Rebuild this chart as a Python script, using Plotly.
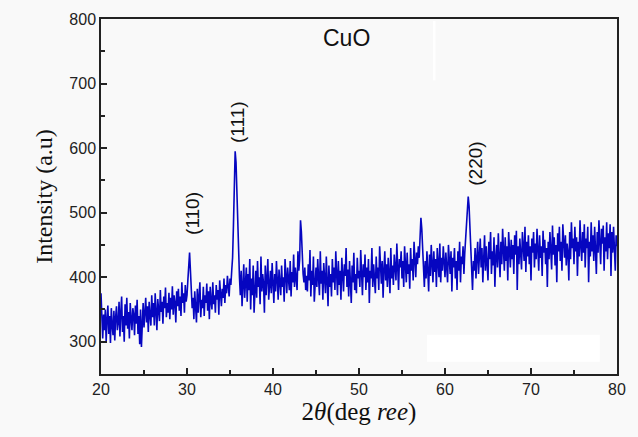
import numpy as np
import plotly.graph_objects as go

# 2-theta from 20 to 80 in steps of 0.1
two_theta = np.round(np.arange(20.0, 80.0001, 0.1), 1)

intensity = [
    375, 330, 305, 342, 318, 350, 300, 335, 356, 312,   # 20
    340, 298, 352, 325, 310, 348, 302, 338, 355, 318,   # 21
    330, 362, 308, 345, 370, 315, 340, 300, 358, 325,   # 22
    368, 320, 346, 305, 360, 335, 318, 352, 342, 310,   # 23
    356, 328, 365, 312, 340, 296, 350, 292, 335, 360,   # 24
    322, 348, 368, 330, 355, 315, 362, 340, 325, 372,   # 25
    338, 360, 325, 375, 345, 318, 366, 350, 332, 380,   # 26
    346, 362, 328, 370, 352, 384, 338, 360, 345, 376,   # 27
    335, 368, 350, 386, 342, 372, 360, 330, 378, 355,   # 28
    382, 348, 370, 340, 392, 360, 375, 345, 388, 362,   # 29
    372, 395, 420, 438, 410, 380, 352, 368, 335, 378,   # 30
    360, 330, 382, 345, 370, 392, 338, 365, 352, 385,   # 31
    340, 372, 360, 390, 348, 378, 335, 385, 362, 350,   # 32
    392, 358, 372, 345, 388, 365, 380, 342, 395, 370,   # 33
    355, 382, 368, 398, 360, 388, 375, 402, 385, 370,   # 34
    398, 388, 410, 430, 480, 560, 595, 578, 530, 470,   # 35
    430, 400, 372, 410, 355, 395, 420, 368, 388, 415,   # 36
    362, 405, 380, 428, 350, 398, 372, 418, 345, 392,   # 37
    410, 368, 425, 385, 400, 358, 432, 378, 405, 390,   # 38
    345, 418, 372, 398, 428, 365, 388, 410, 375, 422,   # 39
    392, 360, 405, 378, 425, 388, 365, 412, 395, 372,   # 40
    418, 385, 400, 362, 428, 390, 375, 415, 398, 380,   # 41
    425, 370, 408, 392, 435, 385, 415, 400, 380, 440,   # 42
    410, 428, 488, 470, 430, 405, 392, 415, 380, 402,   # 43
    378, 420, 395, 442, 370, 410, 388, 432, 362, 400,   # 44
    415, 385, 428, 398, 372, 440, 390, 410, 365, 422,   # 45
    400, 375, 432, 390, 355, 418, 385, 405, 370, 428,   # 46
    392, 415, 380, 440, 398, 372, 425, 388, 410, 365,   # 47
    430, 395, 378, 420, 402, 445, 385, 412, 370, 425,   # 48
    398, 360, 418, 392, 438, 380, 405, 375, 430, 398,   # 49
    410, 385, 442, 395, 372, 420, 400, 435, 380, 415,   # 50
    392, 428, 360, 410, 398, 445, 385, 420, 402, 375,   # 51
    432, 398, 415, 380, 448, 405, 390, 425, 368, 412,   # 52
    440, 395, 420, 385, 430, 405, 375, 445, 398, 418,   # 53
    388, 435, 410, 395, 452, 402, 380, 428, 415, 440,   # 54
    398, 425, 385, 448, 410, 392, 438, 405, 420, 382,   # 55
    445, 410, 428, 395, 455, 418, 400, 438, 420, 448,   # 56
    430, 462, 492, 475, 440, 410, 385, 425, 398, 440,   # 57
    412, 378, 435, 402, 450, 418, 392, 440, 408, 428,   # 58
    385, 445, 415, 400, 452, 392, 430, 410, 448, 420,   # 59
    400, 438, 415, 392, 450, 425, 405, 440, 378, 430,   # 60
    415, 445, 398, 425, 380, 440, 410, 455, 392, 432,   # 61
    420, 448, 405, 438, 462, 480, 505, 525, 510, 478,   # 62
    440, 395, 380, 425, 410, 445, 398, 430, 455, 405,   # 63
    438, 460, 415, 445, 392, 430, 465, 410, 448, 420,   # 64
    395, 455, 428, 470, 405, 440, 418, 462, 385, 430,   # 65
    450, 415, 468, 432, 400, 455, 420, 475, 438, 410,   # 66
    462, 425, 448, 395, 470, 440, 415, 458, 428, 450,   # 67
    405, 465, 435, 472, 380, 448, 420, 460, 438, 412,   # 68
    470, 440, 425, 478, 408, 455, 432, 465, 420, 448,   # 69
    395, 460, 438, 470, 415, 452, 428, 475, 440, 410,   # 70
    465, 430, 448, 402, 472, 438, 458, 420, 445, 385,   # 71
    455, 428, 470, 440, 412, 480, 435, 462, 418, 450,   # 72
    392, 468, 440, 478, 425, 455, 410, 482, 445, 430,   # 73
    465, 418, 452, 438, 395, 470, 428, 485, 445, 460,   # 74
    420, 478, 440, 462, 402, 455, 432, 488, 448, 425,   # 75
    470, 438, 482, 415, 460, 445, 478, 392, 455, 432,   # 76
    485, 440, 465, 425, 478, 450, 405, 470, 438, 488,   # 77
    445, 420, 475, 452, 480, 410, 462, 440, 485, 428,   # 78
    468, 445, 482, 402, 470, 438, 478, 450, 410, 465,   # 79
    448,                                                # 80
]

peak_labels = ["(110)", "(111)", "(220)"]
peak_label_x = [30.7, 35.9, 63.5]
peak_label_y = [498, 640, 576]

x_ticks = [20, 30, 40, 50, 60, 70, 80]
y_ticks = [300, 400, 500, 600, 700, 800]

fig = go.Figure()
fig.add_trace(go.Scatter(
    x=two_theta, y=intensity, mode="lines",
    line=dict(color="#0606c0", width=1.6),
    showlegend=False, hoverinfo="skip",
))

for t, xx, yy in zip(peak_labels, peak_label_x, peak_label_y):
    fig.add_annotation(x=xx, y=yy, text=t, textangle=-90, showarrow=False,
                       font=dict(family="Liberation Sans, Arial", size=19, color="#111"))

fig.add_annotation(x=48.5, y=771, text="CuO", showarrow=False,
                   font=dict(family="Liberation Sans, Arial", size=23, color="#111"))

# white artifact patches visible in the reference
fig.add_shape(type="rect", xref="x", yref="y", x0=57.9, x1=78.0, y0=269, y1=311,
              fillcolor="white", line=dict(width=0), layer="above")
fig.add_shape(type="rect", xref="x", yref="y", x0=58.6, x1=58.9, y0=705, y1=797,
              fillcolor="white", line=dict(width=0), layer="above")

axis_font = dict(family="Liberation Sans, Arial", size=16, color="#222")
fig.update_layout(
    width=638, height=437,
    margin=dict(l=101, r=21, t=19, b=63),
    paper_bgcolor="#f9f9f9", plot_bgcolor="#f9f9f9",
    xaxis=dict(
        range=[20, 80], tickvals=x_ticks, ticks="inside", ticklen=6, tickwidth=1.5,
        tickcolor="#222", showline=True, linecolor="#222", linewidth=1.5, mirror=True,
        showgrid=False, zeroline=False, tickfont=axis_font,
        minor=dict(ticks="inside", ticklen=4, tickwidth=1.5, tickcolor="#222", dtick=5, showgrid=False),
        title=dict(text="2<i>θ</i>(deg <i>ree</i>)", standoff=6,
                   font=dict(family="Liberation Serif, Times New Roman", size=25, color="#111")),
    ),
    yaxis=dict(
        range=[250, 800], tickvals=y_ticks, ticks="inside", ticklen=6, tickwidth=1.5,
        tickcolor="#222", showline=True, linecolor="#222", linewidth=1.5, mirror=True,
        showgrid=False, zeroline=False, tickfont=axis_font,
        minor=dict(ticks="inside", ticklen=4, tickwidth=1.5, tickcolor="#222", dtick=50, showgrid=False),
        title=dict(text="Intensity (a.u)", standoff=10,
                   font=dict(family="Liberation Serif, Times New Roman", size=24, color="#111")),
    ),
)

fig.write_html("out.html")
